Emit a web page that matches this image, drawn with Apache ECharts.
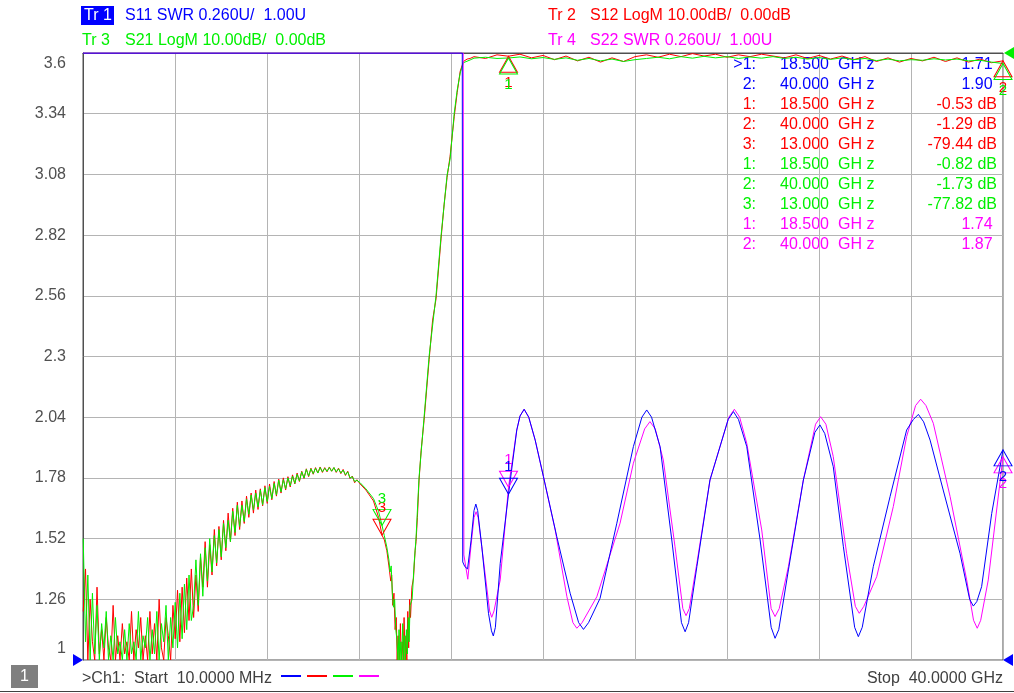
<!DOCTYPE html>
<html>
<head>
<meta charset="utf-8">
<script src="https://cdn.jsdelivr.net/npm/echarts/dist/echarts.min.js"></script>
<style>
  html, body { margin: 0; padding: 0; background: #fff; }
  #chart { width: 1014px; height: 693px; }
</style>
</head>
<body>
<div id="chart"></div>
<script>
// frequencies in GHz, sweep 10 MHz .. 40 GHz
// S12 / S21 in dB (10 dB/div, 0 dB at top), S11 / S22 as SWR (0.26/div, 1.00 at bottom)

// stop band, read every 0.1 GHz from 0.01 GHz
const lowStart = 0.01, lowStep = 0.1;
const s21Low = [
  -80, -97, -86, -100, -89, -99, -91, -100, -94, -98,
  -92, -100, -96, -100, -93, -99, -97, -100, -95, -100,
  -94, -99, -97, -100, -92, -100, -96, -98, -93, -100,
  -95, -99, -92, -100, -94, -97, -91, -100, -93, -98,
  -90.5, -98, -89, -96.5, -87.5, -95, -86, -93.5, -91, -83.5,
  -91, -82.5, -89.5, -81.5, -87, -80, -85.5, -79.5, -84, -78.5,
  -83, -77.5, -81.5, -77, -80.5, -75.5, -79, -74.5, -78, -74.5,
  -77.2, -73.5, -76, -72.8, -75.3, -72.5, -74.8, -72, -74.4, -71.6,
  -73.9, -71.4, -73.4, -70.9, -72.8, -70.4, -72.3, -70.3, -71.8, -70,
  -71.3, -69.7, -70.9, -69.4, -70.5, -69, -70, -68.6, -69.7, -68.5,
  -69.3, -68.4, -69.2, -68.3, -69, -68.4, -68.9, -68.3, -68.9, -68.3,
  -69, -68.5, -69.2, -68.7, -69.5, -69, -70, -69.8, -70.6, -70.4
];
const s12Low = [
  -92, -85, -100, -90, -97, -100, -88, -99, -95, -100,
  -93, -98, -100, -91, -100, -96, -100, -94, -99, -97,
  -100, -92, -100, -95, -98, -93, -100, -96, -100, -92,
  -99, -94, -100, -90, -98, -100, -93, -96, -100, -91,
  -96.5, -88.5, -97, -88, -95.5, -86.5, -93.5, -85, -93, -86,
  -92, -83, -88, -80.5, -88, -81, -86, -78.5, -84.5, -78,
  -83.5, -77, -82, -75.8, -80.5, -75, -79.5, -74, -78.5, -73.8,
  -77.5, -73, -76.5, -72.5, -75.8, -72, -75.2, -71.8, -74.6, -71.3,
  -74.2, -71, -73.6, -70.6, -73, -70.2, -72.5, -70, -72, -69.8,
  -71.5, -69.5, -71, -69.2, -70.6, -68.9, -70.1, -68.5, -69.8, -68.4,
  -69.4, -68.3, -69.2, -68.2, -69.1, -68.3, -69, -68.2, -68.9, -68.3,
  -69.1, -68.4, -69.3, -68.6, -69.6, -68.9, -70.1, -69.7, -70.8, -70.3
];

// notch and filter edge, [GHz, dB]
const s21Edge = [
  [12.05, -70.8], [12.3, -71.8], [12.63, -73.4], [12.85, -75.5], [13.0, -77.82],
  [13.1, -79.5], [13.21, -81.4], [13.3, -83.5], [13.35, -85.5], [13.4, -84.5],
  [13.45, -89], [13.5, -91.3], [13.55, -90], [13.6, -95], [13.65, -96.7],
  [13.7, -100], [13.74, -95], [13.78, -100], [13.82, -97], [13.86, -100],
  [13.9, -94], [13.94, -100], [13.98, -96], [14.02, -100], [14.06, -95],
  [14.1, -99], [14.14, -93], [14.18, -97], [14.22, -91], [14.31, -90],
  [14.4, -84], [14.48, -79.9], [14.61, -70], [14.83, -60], [15.05, -49.9],
  [15.35, -39.9], [15.57, -30], [15.83, -20.1], [15.96, -17.5], [16.14, -9.9],
  [16.27, -6.1], [16.4, -3.3], [16.54, -1.6], [16.83, -1.15]
];
const s12Edge = [
  [12.05, -71.0], [12.3, -72.0], [12.63, -73.8], [12.85, -76.5], [13.0, -79.44],
  [13.1, -80.2], [13.21, -82.0], [13.3, -84.5], [13.38, -87.0], [13.42, -86.0],
  [13.47, -91.0], [13.52, -89.0], [13.57, -95.0], [13.62, -93.0], [13.66, -100],
  [13.7, -96], [13.75, -100], [13.8, -94], [13.84, -100], [13.88, -97],
  [13.92, -100], [13.96, -93], [14.0, -100], [14.04, -96], [14.08, -100],
  [14.12, -92], [14.16, -98], [14.2, -90], [14.24, -93], [14.3, -88],
  [14.37, -86.5], [14.44, -82], [14.48, -80.5], [14.54, -76.5], [14.61, -70.5],
  [14.7, -65.5], [14.83, -60.5], [15.05, -50.5], [15.2, -44], [15.35, -40.5],
  [15.57, -30.5], [15.7, -25], [15.83, -20.5], [15.96, -17], [16.14, -10.5],
  [16.27, -6.5], [16.4, -3.0], [16.54, -1.4], [16.7, -1.0], [16.83, -0.9]
];

// pass band, read every 0.5 GHz from 17 GHz
const passStart = 17, passStep = 0.5;
const s21Pass = [
  -0.85, -0.7, -0.9, -0.82, -0.65, -0.95, -0.75, -1.05, -0.8, -1.2,
  -0.9, -1.3, -1.0, -1.4, -1.1, -0.9, -0.7, -0.95, -0.6, -0.85,
  -0.55, -0.8, -0.6, -0.9, -0.65, -0.85, -0.6, -0.9, -0.7, -1.0,
  -0.75, -1.05, -0.8, -1.1, -0.9, -1.25, -1.0, -1.3, -1.1, -1.2,
  -0.95, -1.15, -1.0, -1.3, -1.2, -1.5, -1.73
];
const s12Pass = [
  -0.6, -0.9, -0.3, -0.53, -0.2, -0.8, -0.4, -1.1, -0.5, -1.3,
  -0.7, -1.5, -0.8, -1.4, -0.6, -0.3, -0.7, -0.2, -0.6, -0.1,
  -0.5, -0.2, -0.7, -0.3, -0.6, -0.2, -0.5, -0.8, -0.3, -0.9,
  -0.4, -1.0, -0.5, -1.1, -0.6, -1.4, -0.8, -1.5, -0.9, -1.3,
  -0.7, -1.4, -0.8, -1.5, -1.0, -1.6, -1.29
];

// SWR, [GHz, SWR]; 3.6 = clipped at the top edge
const s11Swr = [
  [0, 3.6], [16.49, 3.6], [16.51, 1.42], [16.6, 1.40], [16.72, 1.39],
  [16.87, 1.51], [17.0, 1.64], [17.08, 1.668], [17.16, 1.64], [17.34, 1.485],
  [17.63, 1.20], [17.76, 1.125], [17.84, 1.103], [17.93, 1.14], [18.14, 1.414],
  [18.5, 1.71], [18.86, 1.985], [19.0, 2.045], [19.18, 2.074], [19.38, 2.04],
  [19.66, 1.942], [20.02, 1.785], [20.6, 1.528], [21.18, 1.286], [21.55, 1.16],
  [21.76, 1.131], [21.98, 1.16], [22.48, 1.264], [23.21, 1.586], [23.93, 1.914],
  [24.3, 2.04], [24.51, 2.071], [24.72, 2.04], [25.09, 1.914], [25.6, 1.514],
  [26.02, 1.16], [26.18, 1.121], [26.33, 1.16], [26.69, 1.40], [27.26, 1.771],
  [28.05, 2.03], [28.28, 2.064], [28.5, 2.03], [28.86, 1.914], [29.44, 1.514],
  [29.92, 1.14], [30.09, 1.093], [30.25, 1.13], [30.67, 1.386], [31.32, 1.771],
  [31.82, 1.975], [32.04, 2.007], [32.25, 1.97], [32.62, 1.828], [33.06, 1.485],
  [33.55, 1.14], [33.71, 1.10], [33.88, 1.14], [34.36, 1.40], [35.09, 1.70],
  [35.81, 1.985], [36.1, 2.03], [36.32, 2.052], [36.55, 2.02], [36.83, 1.942],
  [37.4, 1.728], [38.13, 1.457], [38.55, 1.26], [38.71, 1.231], [38.86, 1.25],
  [39.07, 1.314], [39.51, 1.628], [40, 1.90]
];
const s22Swr = [
  [0, 3.6], [16.53, 3.6], [16.56, 1.45], [16.73, 1.346], [16.87, 1.49],
  [17.0, 1.61], [17.09, 1.635], [17.18, 1.61], [17.41, 1.428], [17.68, 1.21],
  [17.77, 1.183], [17.87, 1.21], [18.14, 1.343], [18.5, 1.74], [18.86, 1.985],
  [19.0, 2.045], [19.18, 2.074], [19.38, 2.04], [19.66, 1.942], [20.02, 1.785],
  [20.53, 1.557], [21.04, 1.271], [21.3, 1.16], [21.47, 1.136], [21.7, 1.16],
  [22.34, 1.271], [23.35, 1.586], [23.93, 1.843], [24.42, 1.99], [24.65, 2.021],
  [24.88, 1.99], [25.23, 1.857], [25.74, 1.485], [26.08, 1.22], [26.22, 1.19],
  [26.36, 1.22], [26.69, 1.414], [27.26, 1.771], [28.08, 2.04], [28.32, 2.074],
  [28.55, 2.04], [28.86, 1.928], [29.51, 1.557], [29.92, 1.22], [30.09, 1.186],
  [30.27, 1.22], [30.67, 1.40], [31.32, 1.771], [31.85, 2.01], [32.07, 2.042],
  [32.3, 2.01], [32.62, 1.871], [33.2, 1.457], [33.58, 1.23], [33.75, 1.20],
  [33.95, 1.23], [34.51, 1.357], [35.23, 1.657], [35.81, 1.957], [36.2, 2.09],
  [36.42, 2.117], [36.65, 2.09], [36.97, 2.014], [37.7, 1.70], [38.42, 1.343],
  [38.72, 1.17], [38.88, 1.136], [39.03, 1.17], [39.36, 1.343], [40, 1.87]
];

const yTickLabels = ['1', '1.26', '1.52', '1.78', '2.04', '2.3', '2.56', '2.82', '3.08', '3.34', '3.6'];
const traceNames = ['S11', 'S12', 'S21', 'S22'];
const traceTitles = ['S11 SWR 0.260U/  1.00U', 'S12 LogM 10.00dB/  0.00dB', 'S21 LogM 10.00dB/  0.00dB', 'S22 SWR 0.260U/  1.00U'];
const refSwr = 1.00, refDb = 0;
const startText = '>Ch1:  Start  10.0000 MHz';
const stopText = 'Stop  40.0000 GHz';

const markerTrace = ['S11', 'S11', 'S12', 'S12', 'S12', 'S21', 'S21', 'S21', 'S22', 'S22'];
const markerNo = [1, 2, 1, 2, 3, 1, 2, 3, 1, 2];
const markerFreq = [18.5, 40, 18.5, 40, 13, 18.5, 40, 13, 18.5, 40];
const markerVal = [1.71, 1.90, -0.53, -1.29, -79.44, -0.82, -1.73, -77.82, 1.74, 1.87];

const colors = { S11: '#0000ff', S12: '#ff0000', S21: '#00f000', S22: '#ff00ff' };
const isLogM = { S11: false, S12: true, S21: true, S22: false };
const FONT = '"Liberation Sans", Arial, sans-serif';

const sweep = (start, step, vals) => vals.map((v, i) => [+(start + i * step).toFixed(3), v]);

const traceData = {
  S11: s11Swr,
  S12: [...sweep(lowStart, lowStep, s12Low), ...s12Edge, ...sweep(passStart, passStep, s12Pass)],
  S21: [...sweep(lowStart, lowStep, s21Low), ...s21Edge, ...sweep(passStart, passStep, s21Pass)],
  S22: s22Swr
};

const UP = 'path://M5,0 L10,9 L0,9 Z';
const DOWN = 'path://M0,0 L10,0 L5,9 Z';

function markersFor(name) {
  const out = [];
  markerTrace.forEach((t, i) => {
    if (t !== name) return;
    const no = markerNo[i];
    const up = no === 2 || (isLogM[name] && no === 1);
    out.push({
      coord: [markerFreq[i], markerVal[i]],
      symbol: up ? UP : DOWN,
      symbolSize: [18, 16],
      symbolOffset: [0, up ? 8 : -8],
      itemStyle: { color: 'rgba(0,0,0,0)', borderColor: colors[name], borderWidth: 1 },
      label: {
        show: true, formatter: String(no), position: up ? 'bottom' : 'top', distance: 3,
        color: colors[name], fontSize: 15, fontFamily: FONT
      }
    });
  });
  return out;
}

function refArrows(name) {
  const noLabel = { show: false };
  if (name === 'S21') {
    return [{ coord: [40, refDb], symbol: 'path://M10,0 L10,10 L0,5 Z', symbolSize: [10, 12],
      symbolOffset: [6, 0], itemStyle: { color: colors.S21 }, label: noLabel }];
  }
  if (name === 'S11') {
    return [
      { coord: [0, refSwr], symbol: 'path://M0,0 L10,5 L0,10 Z', symbolSize: [10, 12],
        symbolOffset: [-5, 0], itemStyle: { color: colors.S11 }, label: noLabel },
      { coord: [40, refSwr], symbol: 'path://M10,0 L10,10 L0,5 Z', symbolSize: [10, 12],
        symbolOffset: [5, 0], itemStyle: { color: colors.S11 }, label: noLabel }
    ];
  }
  return [];
}

// draw order: S12, S21 under S22, S11
const drawOrder = ['S12', 'S21', 'S22', 'S11'];
const series = drawOrder.map(name => ({
  name: name,
  type: 'line',
  yAxisIndex: isLogM[name] ? 0 : 1,
  data: traceData[name],
  showSymbol: false,
  symbol: 'none',
  lineStyle: { width: 1, color: colors[name] },
  itemStyle: { color: colors[name] },
  emphasis: { disabled: true },
  markPoint: { silent: true, animation: false, data: [...markersFor(name), ...refArrows(name)] }
}));

// header and marker table
const graphics = [];
const txt = (x, y, text, fill, align) => ({
  type: 'text', x: x, y: y, silent: true,
  style: { text: text, fill: fill, font: '16px ' + FONT, textAlign: align || 'left', textVerticalAlign: 'middle' }
});
graphics.push({ type: 'rect', shape: { x: 81, y: 6, width: 33, height: 19 }, style: { fill: '#0000ff' }, silent: true });
const headPos = [[84, 125, 16], [548, 590, 16], [82, 125, 41], [548, 590, 41]];
traceNames.forEach((n, i) => {
  const [xTr, xTitle, y] = headPos[i];
  graphics.push(txt(xTr, y, 'Tr ' + (i + 1), i === 0 ? '#ffffff' : colors[n]));
  graphics.push(txt(xTitle, y, traceTitles[i], colors[n]));
});
markerTrace.forEach((t, i) => {
  const y = 65 + i * 20;
  graphics.push(txt(756, y, (i === 0 ? '>' : '') + markerNo[i] + ':', colors[t], 'right'));
  graphics.push(txt(829, y, markerFreq[i].toFixed(3), colors[t], 'right'));
  graphics.push(txt(838, y, 'GH z', colors[t]));
  graphics.push(txt(997, y, markerVal[i].toFixed(2) + (isLogM[t] ? ' dB' : ' '), colors[t], 'right'));
});
graphics.push({ type: 'rect', shape: { x: 11, y: 665, width: 27, height: 23 }, style: { fill: '#7f7f7f' }, silent: true });
graphics.push(txt(24.5, 677, '1', '#ffffff', 'center'));
graphics.push(txt(82, 679, startText, '#404040'));
graphics.push(txt(1003, 679, stopText, '#404040', 'right'));
graphics.push({ type: 'line', shape: { x1: 0, y1: 691.5, x2: 1014, y2: 691.5 }, style: { stroke: '#404040', lineWidth: 1 }, silent: true });

const chart = echarts.init(document.getElementById('chart'), null, { renderer: 'canvas' });
chart.setOption({
  animation: false,
  backgroundColor: '#ffffff',
  grid: { left: 83, right: 11, top: 53, bottom: 33, show: true, borderColor: '#505050', borderWidth: 1 },
  legend: {
    data: ['S11', 'S12', 'S21', 'S22'],
    left: 276, top: 670, icon: 'rect', itemWidth: 20, itemHeight: 2, itemGap: 6,
    formatter: () => '', selectedMode: false, textStyle: { fontSize: 12 }
  },
  xAxis: {
    type: 'value', min: 0, max: 40, interval: 4,
    axisLabel: { show: false }, axisTick: { show: false },
    axisLine: { show: true, lineStyle: { color: '#505050' } },
    splitLine: { show: true, lineStyle: { color: '#b4b4b4', width: 1 } }
  },
  yAxis: [
    {
      type: 'value', min: -100, max: 0, interval: 10, position: 'left',
      axisTick: { show: false },
      axisLine: { show: true, lineStyle: { color: '#505050' } },
      splitLine: { show: true, lineStyle: { color: '#b4b4b4', width: 1 } },
      axisLabel: {
        showMinLabel: true, showMaxLabel: true,
        color: '#505050', fontSize: 16, fontFamily: FONT, margin: 17,
        formatter: v => {
          const i = Math.round((v + 100) / 10);
          const t = yTickLabels[i];
          if (i === 0) return '{bot|' + t + '}';
          if (i === yTickLabels.length - 1) return '{top|' + t + '}';
          return t;
        },
        rich: {
          top: { padding: [22, 0, 0, 0], color: '#505050', fontSize: 16, fontFamily: FONT },
          bot: { padding: [0, 0, 22, 0], color: '#505050', fontSize: 16, fontFamily: FONT }
        }
      }
    },
    { type: 'value', min: 1, max: 3.6, show: false, splitLine: { show: false } }
  ],
  series: series,
  graphic: graphics
});
</script>
</body>
</html>
